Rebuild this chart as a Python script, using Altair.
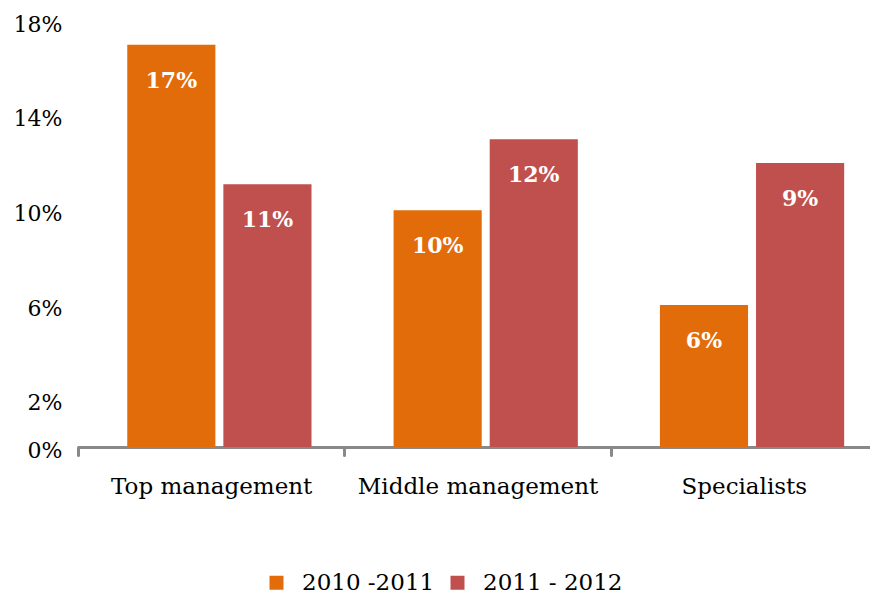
import altair as alt
import pandas as pd

categories = ["Top management", "Middle management", "Specialists"]
periods = ["2010 -2011", "2011 - 2012"]
values_2010 = [17, 10, 6]
values_2011 = [11.1, 13, 12]
labels_2010 = ["17%", "10%", "6%"]
labels_2011 = ["11%", "12%", "9%"]
y_ticks = [0, 2, 6, 10, 14, 18]
colors = ["#E36C0A", "#C0504D"]

rows = []
for i, c in enumerate(categories):
    rows.append(dict(category=c, period=periods[0], value=values_2010[i], label=labels_2010[i]))
    rows.append(dict(category=c, period=periods[1], value=values_2011[i], label=labels_2011[i]))
df = pd.DataFrame(rows)

FONT = "DejaVu Serif"
AXIS_GRAY = "#898989"

x = alt.X(
    "category:N",
    sort=categories,
    scale=alt.Scale(range=[0, 799], paddingInner=0, paddingOuter=0),
    axis=alt.Axis(
        title=None, labelAngle=0, labelFont=FONT, labelFontSize=23, labelColor="#000",
        labelPadding=20, labelLimit=0, domainColor=AXIS_GRAY, domainWidth=3,
        tickColor=AXIS_GRAY, tickWidth=3, tickSize=8, tickBand="extent",
        tickCap="round", labelFlush=False,
    ),
)
xo = alt.XOffset(
    "period:N", sort=periods,
    scale=alt.Scale(paddingInner=0.083, paddingOuter=0.427, align=0.6),
)
y = alt.Y(
    "value:Q",
    scale=alt.Scale(domain=[0, 18], nice=False),
    axis=alt.Axis(
        values=y_ticks, labelExpr="datum.value + '%'", title=None, grid=False,
        domain=False, ticks=False, labelFont=FONT, labelFontSize=22,
        labelPadding=16, labelColor="#000", labelOffset=3,
    ),
)
color = alt.Color(
    "period:N", sort=periods,
    scale=alt.Scale(domain=periods, range=colors),
    legend=alt.Legend(
        title=None, orient="none", legendX=187, legendY=550, direction="horizontal",
        symbolType="square", symbolSize=196, symbolStrokeWidth=0, symbolOpacity=1,
        labelFont=FONT, labelFontSize=23, labelColor="#000", labelOffset=14,
        columnPadding=11, labelLimit=0,
    ),
)

bars = alt.Chart(df).mark_bar(stroke=None).encode(x=x, xOffset=xo, y=y, color=color)
text = alt.Chart(df).mark_text(
    baseline="middle", dy=36, color="white", font=FONT, fontWeight="bold", fontSize=22
).encode(x=x, xOffset=xo, y=y, text="label:N")

chart = (
    alt.layer(bars, text)
    .properties(
        width=792, height=426,
        autosize=alt.AutoSizeParams(type="none"),
        padding={"left": 78, "top": 21, "right": 0, "bottom": 148},
    )
    .configure_view(stroke=None)
)

chart.save("out.html", embed_options={"renderer": "svg", "actions": False})
